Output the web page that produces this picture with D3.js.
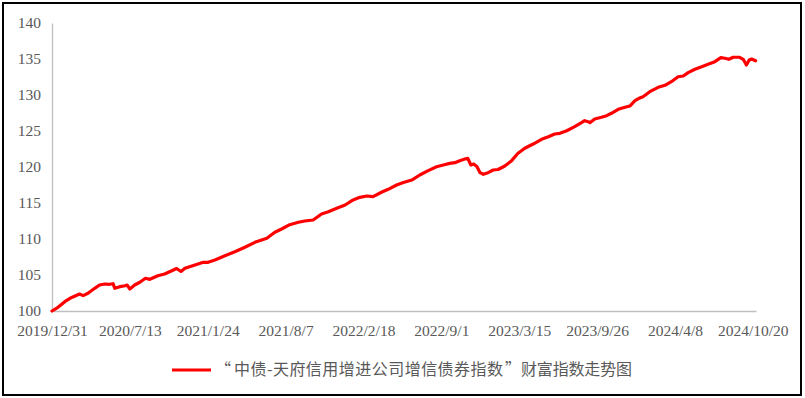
<!DOCTYPE html>
<html><head><meta charset="utf-8">
<script src="https://cdn.jsdelivr.net/npm/d3@7"></script>
<style>
html,body{margin:0;padding:0;background:#fff;}
svg{display:block;}
</style></head>
<body><svg id="c" width="805" height="398"></svg>
<script>
const seriesName = "“中债-天府信用增进公司增信债券指数”财富指数走势图";
const dates = ["2019-12-31","2020-01-15","2020-02-01","2020-02-17","2020-03-09","2020-03-18","2020-03-30","2020-04-16","2020-04-28","2020-05-11","2020-05-23","2020-06-01","2020-06-05","2020-06-18","2020-07-01","2020-07-06","2020-07-13","2020-07-25","2020-08-07","2020-08-21","2020-09-01","2020-09-21","2020-10-08","2020-10-26","2020-11-07","2020-11-18","2020-11-28","2020-12-23","2021-01-13","2021-01-25","2021-02-11","2021-03-08","2021-04-02","2021-04-27","2021-05-22","2021-06-08","2021-06-21","2021-07-11","2021-07-28","2021-08-15","2021-09-08","2021-09-24","2021-10-15","2021-11-05","2021-11-22","2021-12-13","2022-01-03","2022-01-23","2022-02-09","2022-02-26","2022-03-14","2022-04-04","2022-04-21","2022-05-12","2022-05-29","2022-06-19","2022-07-09","2022-07-30","2022-08-20","2022-09-06","2022-09-22","2022-10-05","2022-10-17","2022-10-30","2022-11-06","2022-11-14","2022-11-21","2022-11-29","2022-12-07","2022-12-15","2022-12-27","2023-01-09","2023-01-21","2023-02-07","2023-02-24","2023-03-12","2023-03-29","2023-04-19","2023-05-10","2023-05-27","2023-06-12","2023-06-25","2023-07-12","2023-08-01","2023-08-18","2023-08-26","2023-09-04","2023-09-08","2023-09-20","2023-10-07","2023-10-20","2023-11-01","2023-11-18","2023-12-05","2023-12-17","2023-12-30","2024-01-09","2024-01-19","2024-02-05","2024-02-26","2024-03-14","2024-03-30","2024-04-16","2024-04-29","2024-05-11","2024-05-28","2024-06-14","2024-06-30","2024-07-17","2024-08-01","2024-08-11","2024-08-21","2024-09-01","2024-09-17","2024-09-26","2024-10-04","2024-10-11","2024-10-17","2024-10-27"];
const values = [100.00,100.51,101.29,101.85,102.36,102.13,102.46,103.15,103.61,103.75,103.71,103.79,103.15,103.38,103.51,103.61,103.06,103.61,103.99,104.54,104.40,104.90,105.14,105.60,105.90,105.49,105.93,106.39,106.76,106.76,107.08,107.68,108.24,108.85,109.54,109.86,110.10,110.93,111.39,111.94,112.32,112.50,112.64,113.47,113.79,114.26,114.72,115.42,115.79,115.97,115.88,116.49,116.90,117.50,117.85,118.19,118.89,119.49,120.04,120.28,120.51,120.60,120.88,121.11,121.21,120.28,120.42,120.07,119.21,118.99,119.21,119.58,119.65,120.14,120.88,121.90,122.60,123.19,123.85,124.21,124.58,124.68,125.04,125.60,126.15,126.43,126.29,126.15,126.67,126.90,127.13,127.46,128.01,128.29,128.47,129.21,129.54,129.76,130.46,131.07,131.35,131.85,132.54,132.64,133.10,133.57,133.93,134.26,134.63,135.18,135.10,134.96,135.24,135.24,134.96,134.17,134.86,135.00,134.76];
const xTickLabels = ["2019/12/31","2020/7/13","2021/1/24","2021/8/7","2022/2/18","2022/9/1","2023/3/15","2023/9/26","2024/4/8","2024/10/20"];
const yTicks = [100,105,110,115,120,125,130,135,140];
const xDomain = ["2019-12-31","2024-10-28"];

const parse = d3.timeParse("%Y-%m-%d");
const parseLbl = d3.timeParse("%Y/%m/%d");
const svg = d3.select("#c");
const W = 805, H = 398;
const m = {left:52, right:49, top:23, bottom:87};

svg.append("rect").attr("x",3).attr("y",3).attr("width",798).attr("height",392)
  .attr("fill","#fff").attr("stroke","#000").attr("stroke-width",2);

const x = d3.scaleTime().domain(xDomain.map(parse)).range([m.left, W - m.right]);
const y = d3.scaleLinear().domain([100,140]).range([H - m.bottom, m.top]);

const data = dates.map((d,i)=>({date:parse(d), value:values[i]}));

const gx = svg.append("g").attr("transform",`translate(0,${H-m.bottom})`)
  .call(d3.axisBottom(x).tickValues(xTickLabels.map(parseLbl)).tickSize(0).tickPadding(14)
    .tickFormat((d,i)=>xTickLabels[i]));
gx.select(".domain").attr("stroke","#bfbfbf").attr("stroke-width",1.3);
gx.selectAll("text").attr("font-family","'Liberation Serif','Times New Roman',serif")
  .attr("font-size","15.5px").attr("fill","#595959");

const gy = svg.append("g").attr("transform",`translate(${m.left},0)`)
  .call(d3.axisLeft(y).tickValues(yTicks).tickSize(0).tickPadding(11));
gy.select(".domain").attr("stroke","#bfbfbf").attr("stroke-width",1.3);
gy.selectAll("text").attr("font-family","'Liberation Serif','Times New Roman',serif")
  .attr("font-size","15.5px").attr("fill","#595959");

const line = d3.line().x(d=>x(d.date)).y(d=>y(d.value)).curve(d3.curveLinear);
svg.append("path").datum(data).attr("d",line).attr("fill","none")
  .attr("stroke","#ff0000").attr("stroke-width",3.2).attr("stroke-linejoin","round").attr("stroke-linecap","round");

// legend
const lg = svg.append("g");
lg.append("line").attr("x1",172).attr("x2",211).attr("y1",370).attr("y2",370)
  .attr("stroke","#ff0000").attr("stroke-width",3.2);
const lt = lg.append("text").attr("y",369).attr("dy","0.35em")
  .attr("font-family","'Noto Sans CJK SC','Noto Sans',sans-serif").attr("font-size","16px")
  .attr("fill","#595959");
// the reference sets the curly quotes full-width; place the pieces to match
const parts = seriesName.split(/([“”])/).filter(s=>s.length);
const partX = [215, 234, 505, 521];
const partLen = [null, 269, null, 111];
parts.forEach((p,i)=>{
  const t = lt.append("tspan").attr("x",partX[i]).text(p);
  if (partLen[i]) t.attr("textLength",partLen[i]).attr("lengthAdjust","spacing");
});
</script></body></html>
